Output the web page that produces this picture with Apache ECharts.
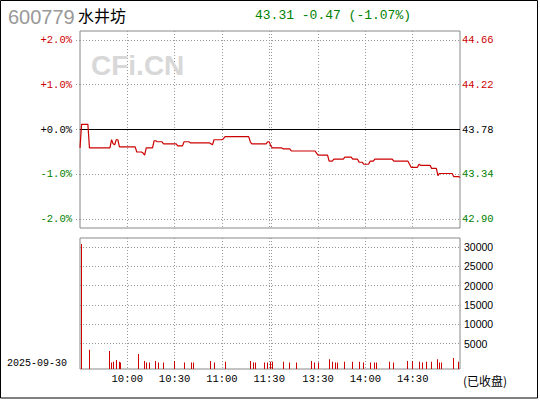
<!DOCTYPE html>
<html><head><meta charset="utf-8">
<script src="https://cdn.jsdelivr.net/npm/echarts@6/dist/echarts.min.js"></script>
<style>html,body{margin:0;padding:0;background:#fff}#c{width:540px;height:400px}</style>
</head><body><div id="c"></div>
<script>
// ---------- data ----------
const stockCode = '600779';
const stockName = '水井坊';
const prevClose = 43.78;
const quoteText = '43.31 -0.47 (-1.07%)';
const tradeDate = '2025-09-30';
const statusText = '(已收盘)';
const watermark = 'CFi.CN';

const pctTicks = [-2, -1, 0, 1, 2];
const priceTickLabels = ['42.90', '43.34', '43.78', '44.22', '44.66'];
const volTicks = [5000, 10000, 15000, 20000, 25000, 30000];
const timeLabels = ['10:00', '10:30', '11:00', '11:30', '13:30', '14:00', '14:30'];
const gridTimes = ['10:00', '10:30', '11:00', '11:30', '13:00', '13:30', '14:00', '14:30'];

// minute categories: 09:30-11:30, 13:00-15:00
const sessions = [[9 * 60 + 30, 11 * 60 + 30], [13 * 60, 15 * 60]];
const minutes = [];
sessions.forEach(([a, b]) => {
  for (let m = a; m <= b; m++) {
    minutes.push(String(Math.floor(m / 60)).padStart(2, '0') + ':' + String(m % 60).padStart(2, '0'));
  }
});

// one price per minute (242 values)
const prices = [
  43.60, 43.83, 43.83, 43.83, 43.83, 43.83, 43.60, 43.60, 43.60, 43.60,
  43.60, 43.60, 43.60, 43.60, 43.60, 43.60, 43.60, 43.60, 43.60, 43.60,
  43.68, 43.64, 43.63, 43.68, 43.68, 43.61, 43.61, 43.61, 43.61, 43.61,
  43.61, 43.61, 43.61, 43.61, 43.61, 43.61, 43.56, 43.56, 43.56, 43.56,
  43.55, 43.53, 43.60, 43.60, 43.60, 43.60, 43.60, 43.67, 43.67, 43.66,
  43.66, 43.66, 43.66, 43.64, 43.64, 43.64, 43.64, 43.64, 43.64, 43.64,
  43.64, 43.64, 43.62, 43.62, 43.62, 43.62, 43.66, 43.66, 43.66, 43.66,
  43.65, 43.65, 43.65, 43.65, 43.65, 43.65, 43.65, 43.65, 43.65, 43.65,
  43.65, 43.65, 43.65, 43.64, 43.63, 43.68, 43.68, 43.68, 43.68, 43.68,
  43.68, 43.69, 43.71, 43.71, 43.71, 43.71, 43.71, 43.71, 43.71, 43.71,
  43.71, 43.71, 43.71, 43.71, 43.71, 43.71, 43.71, 43.71, 43.66, 43.64,
  43.64, 43.64, 43.64, 43.64, 43.64, 43.64, 43.64, 43.64, 43.64, 43.66,
  43.66, 43.62, 43.60, 43.60, 43.60, 43.60, 43.60, 43.60, 43.60, 43.59,
  43.59, 43.59, 43.59, 43.59, 43.57, 43.57, 43.57, 43.57, 43.57, 43.57,
  43.57, 43.57, 43.57, 43.57, 43.57, 43.57, 43.57, 43.57, 43.57, 43.57,
  43.55, 43.53, 43.53, 43.53, 43.53, 43.53, 43.53, 43.53, 43.47, 43.47,
  43.47, 43.49, 43.49, 43.49, 43.49, 43.49, 43.49, 43.49, 43.51, 43.51,
  43.51, 43.51, 43.51, 43.49, 43.49, 43.49, 43.49, 43.46, 43.46, 43.46,
  43.44, 43.44, 43.44, 43.44, 43.47, 43.47, 43.47, 43.49, 43.49, 43.49,
  43.49, 43.49, 43.49, 43.49, 43.49, 43.49, 43.49, 43.49, 43.49, 43.47,
  43.47, 43.47, 43.47, 43.47, 43.47, 43.47, 43.47, 43.47, 43.47, 43.44,
  43.41, 43.41, 43.41, 43.41, 43.41, 43.44, 43.43, 43.43, 43.43, 43.43,
  43.43, 43.43, 43.43, 43.40, 43.40, 43.40, 43.40, 43.33, 43.35, 43.35,
  43.35, 43.35, 43.35, 43.35, 43.35, 43.35, 43.35, 43.32, 43.32, 43.32,
  43.32, 43.31
];

// volume bars (minutes with trades)
const volTimes = [
  '09:31', '09:36', '09:49', '09:50', '09:51', '09:53', '09:55', '09:56', '10:07', '10:11',
  '10:12', '10:14', '10:18', '10:20', '10:23', '10:30', '10:36', '10:41', '10:42', '10:53',
  '10:55', '11:02', '11:18', '11:20', '11:21', '11:27', '11:29', '13:00', '13:01', '13:08',
  '13:12', '13:16', '13:26', '13:28', '13:30', '13:37', '13:39', '13:41', '13:42', '13:47',
  '13:52', '13:56', '13:59', '14:03', '14:06', '14:07', '14:15', '14:18', '14:27', '14:30',
  '14:34', '14:36', '14:39', '14:42', '14:46', '14:47', '14:48', '14:56', '14:59'
];
const volValues = [
  30800, 3400, 3100, 100, 300, 800, 300, 100, 2300, 500,
  100, 100, 500, 100, 100, 500, 100, 100, 100, 500,
  100, 300, 500, 100, 100, 100, 100, 300, 300, 300,
  100, 100, 500, 100, 100, 1000, 300, 100, 100, 300,
  300, 300, 100, 100, 100, 100, 300, 100, 500, 500,
  300, 100, 300, 300, 1000, 100, 100, 1300, 300
];

// ---------- chart ----------
const RED = '#cc0000', GREEN = '#008000';
const MONO = '"Liberation Mono", "DejaVu Sans Mono", monospace';
const SANS = '"Liberation Sans", Arial, sans-serif';
const CJK = '"Noto Sans CJK SC", sans-serif';
const pMin = prevClose * (1 - 0.022), pMax = prevClose * (1 + 0.022);
const pctValues = pctTicks.map(p => prevClose * (1 + p / 100));
const volMin = -1550, volMax = 32330;
const dotted = { color: '#999', type: [1, 2], width: 1 };

function colorFor(v) {
  v = parseFloat(v);
  if (v > prevClose + 1e-6) return RED;
  if (v < prevClose - 1e-6) return GREEN;
  return '#000';
}

const chart = echarts.init(document.getElementById('c'), null, { renderer: 'svg' });
chart.setOption({
  animation: false,
  backgroundColor: '#fff',
  grid: [
    { left: 80, top: 31, width: 380, height: 197, show: true, borderColor: '#888', borderWidth: 1 },
    { left: 80, top: 238, width: 380, height: 131, show: true, borderColor: '#888', borderWidth: 1 }
  ],
  xAxis: [
    {
      gridIndex: 0, type: 'category', data: minutes, boundaryGap: false,
      axisLine: { show: false }, axisTick: { show: false }, axisLabel: { show: false },
      splitLine: { show: true, interval: (i, v) => gridTimes.includes(v), lineStyle: dotted }
    },
    {
      gridIndex: 1, type: 'category', data: minutes, boundaryGap: false,
      axisLine: { show: false }, axisTick: { show: false },
      axisLabel: {
        show: true, interval: (i, v) => timeLabels.includes(v), margin: 4,
        fontFamily: MONO, fontSize: 10.5, color: '#000'
      },
      splitLine: { show: true, interval: (i, v) => gridTimes.includes(v), lineStyle: dotted }
    }
  ],
  yAxis: [
    {
      gridIndex: 0, type: 'value', min: pMin, max: pMax, position: 'left',
      axisLine: { show: false },
      axisTick: { show: true, length: 4, customValues: pctValues, lineStyle: dotted },
      splitLine: { show: true, lineStyle: dotted },
      axisLabel: {
        customValues: pctValues, margin: 8, fontFamily: MONO, fontSize: 10.5,
        formatter: v => { const p = (v / prevClose - 1) * 100; return (p >= -1e-9 ? '+' : '-') + Math.abs(p).toFixed(1) + '%'; },
        color: colorFor
      }
    },
    {
      gridIndex: 0, type: 'value', min: pMin, max: pMax, position: 'right',
      axisLine: { show: false }, axisTick: { show: false, customValues: pctValues },
      splitLine: { show: false },
      axisLabel: {
        customValues: pctValues, margin: 2, fontFamily: MONO, fontSize: 10.5,
        formatter: (v) => priceTickLabels[pctValues.findIndex(x => Math.abs(x - v) < 1e-6)],
        color: colorFor
      }
    },
    {
      gridIndex: 1, type: 'value', min: volMin, max: volMax, position: 'right',
      axisLine: { show: false }, axisTick: { show: false, customValues: volTicks },
      splitLine: { show: true, lineStyle: dotted },
      axisLabel: { customValues: volTicks, margin: 4, fontFamily: SANS, fontSize: 10.5, color: '#000', formatter: v => String(v) }
    }
  ],
  series: [
    {
      type: 'line', xAxisIndex: 0, yAxisIndex: 0, data: prices, symbol: 'none',
      lineStyle: { color: RED, width: 1.2 }, z: 5,
      markLine: {
        silent: true, symbol: 'none', label: { show: false },
        lineStyle: { color: '#000', type: 'solid', width: 1 },
        data: [{ yAxis: prevClose }]
      }
    },
    {
      type: 'custom', xAxisIndex: 1, yAxisIndex: 2,
      data: volTimes.map((t, i) => [t, volValues[i]]),
      renderItem: (params, api) => {
        const top = api.coord([api.value(0), api.value(1)]);
        const base = api.coord([api.value(0), volMin]);
        return {
          type: 'rect',
          shape: { x: Math.floor(top[0]), y: top[1], width: 1, height: base[1] - top[1] },
          style: { fill: RED }
        };
      }
    }
  ],
  graphic: [
    { type: 'rect', shape: { x: 0.5, y: 0.5, width: 537, height: 397.5 }, style: { fill: null, stroke: '#000', lineWidth: 1 }, silent: true },
    { type: 'text', x: 91, y: 65, z: 1, style: { text: watermark, font: 'bold 28px ' + SANS, fill: '#d8d8d8', textVerticalAlign: 'middle' } },
    { type: 'text', x: 8, y: 17, style: { text: stockCode, font: '20px ' + SANS, fill: '#999', textVerticalAlign: 'middle' } },
    { type: 'text', x: 78, y: 15, style: { text: stockName, font: '16px ' + CJK, fill: '#000', textVerticalAlign: 'middle' } },
    { type: 'text', x: 255, y: 15, style: { text: quoteText, font: '13px ' + MONO, fill: GREEN, textVerticalAlign: 'middle' } },
    { type: 'text', x: 7, y: 363, style: { text: tradeDate, font: '10px ' + MONO, fill: '#000', textVerticalAlign: 'middle' } },
    { type: 'text', x: 463, y: 380, style: { text: statusText, font: '12px ' + CJK, fill: '#000', textVerticalAlign: 'middle' } }
  ]
});
</script></body></html>
